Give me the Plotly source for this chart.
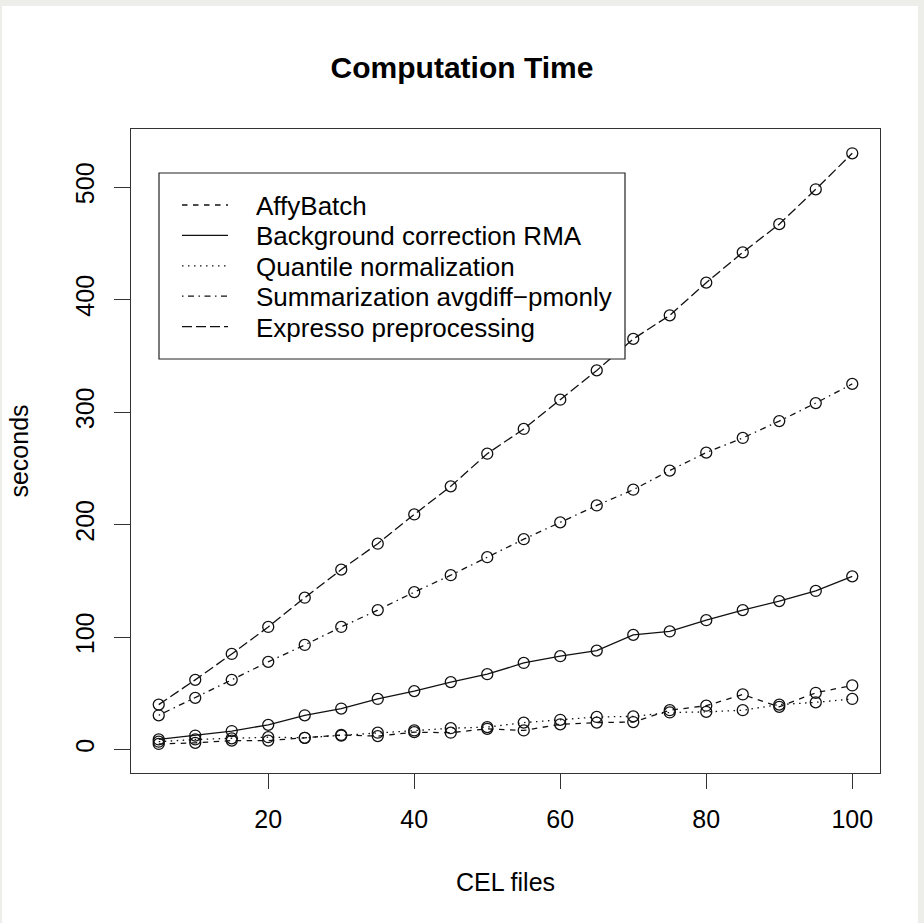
import plotly.graph_objects as go

cel_files = [5, 10, 15, 20, 25, 30, 35, 40, 45, 50, 55, 60, 65, 70, 75, 80, 85, 90, 95, 100]

affybatch = [5, 6, 8, 8, 10.5, 13, 12, 15.5, 15, 18.5, 17, 22.5, 24, 24.5, 35, 39, 49, 38, 50.5, 57]
bg_rma = [9, 12.5, 16.5, 22, 30.5, 36.5, 45, 52, 60, 67, 77, 83, 88, 102, 105, 115, 124, 132, 141, 154]
quantile = [7, 9, 10, 11, 10.5, 12.5, 15, 17, 19, 20, 24, 26.5, 29, 29.5, 33, 33.5, 35, 40, 42, 45]
summarization = [30.5, 46, 62, 78, 93, 109, 124, 140, 155, 171, 187, 202, 217, 231, 248, 264, 277, 292, 308, 325]
expresso = [40, 62, 85, 109, 135, 160, 183, 209, 234, 263, 285, 311, 337, 365, 386, 415, 442, 467, 498, 530]

series_names = ["AffyBatch", "Background correction RMA", "Quantile normalization",
                "Summarization avgdiff\u2212pmonly", "Expresso preprocessing"]
series_values = [affybatch, bg_rma, quantile, summarization, expresso]
series_dash = ["5.5px,5.5px", "solid", "1.5px,4.5px", "1.5px,4.5px,6px,4.5px", "10px,4px"]

x_ticks = [20, 40, 60, 80, 100]
y_ticks = [0, 100, 200, 300, 400, 500]

FONT = "Liberation Sans, Arial, sans-serif"
INK = "#111111"

W, H = 924, 923
L, R, T, B = 131, 44, 129, 150
pw, ph = W - L - R, H - T - B


def px_x(p):
    return (p - L) / pw


def px_y(p):
    return 1 - (p - T) / ph


fig = go.Figure()
for name, vals, dash in zip(series_names, series_values, series_dash):
    fig.add_trace(go.Scatter(
        x=cel_files, y=vals, mode="lines+markers", name=name, showlegend=False,
        line=dict(color=INK, width=1.3, dash=dash),
        marker=dict(symbol="circle-open", size=11, color=INK, line=dict(width=1.3, color=INK)),
    ))

# page frame
fig.add_shape(type="rect", xref="paper", yref="paper",
              x0=px_x(2), x1=px_x(918), y0=px_y(923), y1=px_y(6),
              fillcolor="white", line=dict(width=0), layer="below")

# legend box (drawn as in the original R legend)
fig.add_shape(type="rect", xref="paper", yref="paper",
              x0=px_x(159), x1=px_x(625), y0=px_y(359), y1=px_y(173),
              fillcolor="white", line=dict(color="#222222", width=1.2), layer="above")
row0, row_gap = 205, 30.4
for i, (name, dash) in enumerate(zip(series_names, series_dash)):
    yc = row0 + i * row_gap
    fig.add_shape(type="line", xref="paper", yref="paper",
                  x0=px_x(182), x1=px_x(228), y0=px_y(yc), y1=px_y(yc),
                  line=dict(color=INK, width=1.3, dash=dash), layer="above")
    fig.add_annotation(text=name, xref="paper", yref="paper", x=px_x(254), y=px_y(yc + 1),
                       xanchor="left", yanchor="middle", showarrow=False,
                       font=dict(size=26, family=FONT, color="#000000"))

fig.update_layout(
    width=W, height=H,
    margin=dict(l=L, r=R, t=T, b=B, autoexpand=False),
    paper_bgcolor="#ededea", plot_bgcolor="white",
    font=dict(family=FONT, size=25, color="#000000"),
    title=dict(text="<b>Computation Time</b>", x=px_x(505.5), xanchor="center",
               y=1 - 67 / H, yanchor="middle", font=dict(size=30, family=FONT)),
    showlegend=False,
)
fig.update_xaxes(
    range=[1.2, 103.8], tickvals=x_ticks, ticktext=[str(v) for v in x_ticks],
    ticks="outside", ticklen=15, tickwidth=1.2, tickcolor="#333333",
    showline=True, mirror=True, linecolor="#333333", linewidth=1.3,
    showgrid=False, zeroline=False, ticklabelstandoff=9,
    title=dict(text="CEL files", standoff=41, font=dict(size=25)),
)
fig.update_yaxes(
    range=[-20.8, 551.6], tickvals=y_ticks, ticktext=[str(v) for v in y_ticks],
    ticks="outside", ticklen=16, tickwidth=1.2, tickcolor="#333333", tickangle=-90,
    showline=True, mirror=True, linecolor="#333333", linewidth=1.3,
    showgrid=False, zeroline=False, ticklabelstandoff=10,
    title=dict(text="seconds", standoff=35, font=dict(size=25)),
)

fig.write_html("out.html", config={"displayModeBar": False},
               post_script="document.body.style.margin='0';document.body.style.overflow='hidden';")
